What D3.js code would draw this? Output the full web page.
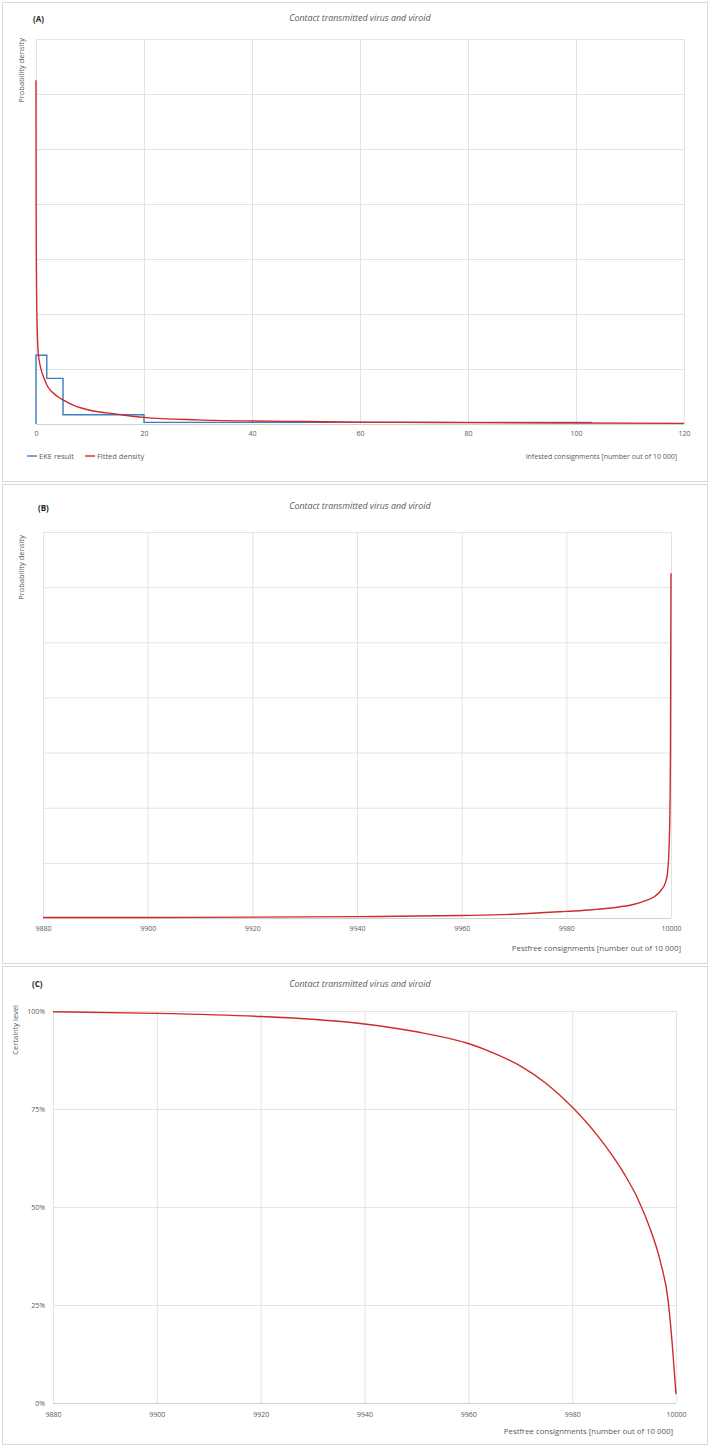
<!DOCTYPE html>
<html lang="en">
  <head>
    <meta charset="utf-8">
    <title>Contact transmitted virus and viroid</title>
    <script src="https://cdn.jsdelivr.net/npm/d3@7"></script>
    <style>
      body { margin: 0; background: #fff; }
      text { font-family: "Open Sans", sans-serif; fill: #595959; }
      .tick text { font-size: 7px; fill: #595959; }
      .grid line { stroke: #e3e3e3; stroke-width: 1; }
      .grid .domain { display: none; }
    </style>
  </head>
  <body>
    <script>

        var w = 709;
        var h = 1447;

        // EKE result (histogram from elicited quantiles), infested consignments
        var ekeEdges = [0, 2, 5, 20, 103];
        var ekeDensity = [0.125, 0.083, 0.0167, 0.003];

        // fitted density
        var fitInfested = [0, 0.01, 0.03, 0.06, 0.12, 0.24, 0.4, 0.6, 1, 1.5, 2, 3, 4, 5, 7, 10, 15, 20, 30, 40, 50, 60, 80, 100, 120];
        var fitDensity = [0.625, 0.5, 0.38, 0.3, 0.23, 0.17, 0.13, 0.115, 0.097, 0.083, 0.071, 0.058, 0.05, 0.044, 0.034, 0.025, 0.018, 0.012, 0.0075, 0.0055, 0.0045, 0.0035, 0.0025, 0.0018, 0.0012];

        // fitted density (pestfree scale)
        var fitPestfree = [9880, 9900, 9920, 9940, 9960, 9970, 9980, 9985, 9990, 9993, 9995, 9997, 9998, 9999, 9999.3, 9999.6, 9999.8, 9999.9, 10000];
        var fitDensityB = [0.0008, 0.001, 0.0015, 0.0025, 0.0045, 0.0068, 0.012, 0.015, 0.02, 0.025, 0.031, 0.04, 0.049, 0.066, 0.08, 0.12, 0.2, 0.3, 0.625];

        // certainty level (panel C)
        var certPestfree = [9880, 9900, 9920, 9930, 9940, 9950, 9960, 9965, 9970, 9975, 9980, 9985, 9990, 9992.5, 9995, 9997, 9998.5, 9999.3, 10000];
        var certLevel = [99.8, 99.4, 98.6, 97.9, 96.7, 94.7, 91.7, 89.2, 86, 81.5, 75.5, 68, 58.5, 52.5, 44.5, 36, 26, 14.6, 2.3];

        var infestedTicks = [0, 20, 40, 60, 80, 100, 120];
        var pestfreeTicks = [9880, 9900, 9920, 9940, 9960, 9980, 10000];
        var densityGrid = [0, 0.1, 0.2, 0.3, 0.4, 0.5, 0.6, 0.7];
        var certTicks = [0, 25, 50, 75, 100];

        var titleText = "Contact transmitted virus and viroid";
        var red = "#d02b2b";
        var blue = "#3d7ebd";

        var mySvg = d3.select("body")
                      .append("svg")
                      .attr("width", w)
                      .attr("height", h);

        // panel frames
        var frames = [[2, 2, 705, 479], [2, 484, 705, 479], [2, 966, 705, 478]];
        mySvg.selectAll("rect.frame")
             .data(frames)
             .enter()
             .append("rect")
             .attr("class", "frame")
             .attr("x", function(d) { return d[0] + 0.5; })
             .attr("y", function(d) { return d[1] + 0.5; })
             .attr("width", function(d) { return d[2]; })
             .attr("height", function(d) { return d[3]; })
             .attr("fill", "none")
             .attr("stroke", "#d9d9d9");

        function panelText(letter, lx, ly, titleY, ylab, ylx, yly) {
          mySvg.append("text")
               .attr("x", lx).attr("y", ly)
               .style("font-size", "8px").style("font-weight", "bold").style("fill", "#222")
               .text(letter);
          mySvg.append("text")
               .attr("x", 360).attr("y", titleY)
               .attr("text-anchor", "middle")
               .style("font-size", "8.9px").style("font-style", "italic")
               .text(titleText);
          mySvg.append("text")
               .attr("transform", "translate(" + ylx + "," + yly + ") rotate(-90)")
               .attr("text-anchor", "end")
               .style("font-size", "7.5px")
               .text(ylab);
        }

        function grid(g, x, y, xt, yt) {
          var x0 = x.range()[0], x1 = x.range()[1];
          var y0 = y.range()[0], y1 = y.range()[1];
          g.append("g").attr("class", "grid")
           .attr("transform", "translate(0," + y0 + ")")
           .call(d3.axisBottom(x).tickValues(xt).tickSize(-(y0 - y1)).tickFormat(""));
          g.append("g").attr("class", "grid")
           .attr("transform", "translate(" + x0 + ",0)")
           .call(d3.axisLeft(y).tickValues(yt).tickSize(-(x1 - x0)).tickFormat(""));
          g.append("line")
           .attr("x1", x0).attr("x2", x1).attr("y1", y0 + 0.5).attr("y2", y0 + 0.5)
           .attr("stroke", "#d0d0d0");
        }

        function xLabels(g, x, y, ticks, dy) {
          g.append("g")
           .attr("transform", "translate(0," + y.range()[0] + ")")
           .call(d3.axisBottom(x).tickValues(ticks).tickSize(0).tickPadding(dy).tickFormat(d3.format("d")))
           .call(function(a) { a.select(".domain").remove(); });
        }

        function redLine(g, x, y, pts) {
          g.append("path")
           .datum(pts)
           .attr("fill", "none")
           .attr("stroke", red)
           .attr("stroke-width", 1.4)
           .attr("d", d3.line()
                        .x(function(d) { return x(d[0]); })
                        .y(function(d) { return y(d[1]); })
                        .curve(d3.curveMonotoneX));
        }

        // ---------- panel A ----------
        var xA = d3.scaleLinear().domain([0, 120]).range([36, 684]);
        var yA = d3.scaleLinear().domain([0, 0.7]).range([424, 39]);
        var gA = mySvg.append("g");
        panelText("(A)", 33, 22, 21, "Probability density", 24, 38);
        grid(gA, xA, yA, infestedTicks, densityGrid);
        xLabels(gA, xA, yA, infestedTicks, 7);

        var ekePts = [[0, 0]];
        ekeDensity.forEach(function(d, i) { ekePts.push([ekeEdges[i], d]); });
        ekePts.push([ekeEdges[ekeEdges.length - 1], ekeDensity[ekeDensity.length - 1]]);

        gA.append("path")
          .datum(ekePts)
          .attr("fill", "none")
          .attr("stroke", blue)
          .attr("stroke-width", 1.4)
          .attr("d", d3.line()
                       .x(function(d) { return xA(d[0]); })
                       .y(function(d) { return yA(d[1]); })
                       .curve(d3.curveStepAfter));

        redLine(gA, xA, yA, fitInfested.map(function(v, i) { return [v, fitDensity[i]]; }));

        // legend
        var legend = [["EKE result", blue, 27], ["Fitted density", red, 85]];
        var lg = gA.selectAll("g.legend")
                   .data(legend)
                   .enter()
                   .append("g")
                   .attr("class", "legend")
                   .attr("transform", function(d) { return "translate(" + d[2] + ",456)"; });
        lg.append("line")
          .attr("x1", 0).attr("x2", 10).attr("y1", 0).attr("y2", 0)
          .attr("stroke", function(d) { return d[1]; })
          .attr("stroke-width", 1.4);
        lg.append("text")
          .attr("x", 12).attr("y", 2.7)
          .style("font-size", "7.5px")
          .text(function(d) { return d[0]; });

        gA.append("text")
          .attr("x", 677).attr("y", 459)
          .attr("text-anchor", "end")
          .style("font-size", "7px")
          .text("Infested consignments [number out of 10 000]");

        // ---------- panel B ----------
        var xB = d3.scaleLinear().domain([9880, 10000]).range([43, 671]);
        var yB = d3.scaleLinear().domain([0, 0.7]).range([918, 532]);
        var gB = mySvg.append("g");
        panelText("(B)", 38, 511, 509, "Probability density", 24, 535);
        grid(gB, xB, yB, pestfreeTicks, densityGrid);
        xLabels(gB, xB, yB, pestfreeTicks, 8);

        redLine(gB, xB, yB, fitPestfree.map(function(v, i) { return [v, fitDensityB[i]]; }));

        gB.append("text")
          .attr("x", 681).attr("y", 951)
          .attr("text-anchor", "end")
          .style("font-size", "7.8px")
          .text("Pestfree consignments [number out of 10 000]");

        // ---------- panel C ----------
        var xC = d3.scaleLinear().domain([9880, 10000]).range([53, 676]);
        var yC = d3.scaleLinear().domain([0, 100]).range([1403, 1011]);
        var gC = mySvg.append("g");
        panelText("(C)", 32, 987, 987, "Certainty level", 18, 1005);
        grid(gC, xC, yC, pestfreeTicks, certTicks);
        xLabels(gC, xC, yC, pestfreeTicks, 9);

        gC.append("g")
          .attr("transform", "translate(" + xC.range()[0] + ",0)")
          .call(d3.axisLeft(yC).tickValues(certTicks).tickSize(0).tickPadding(8)
                  .tickFormat(function(d) { return d + "%"; }))
          .call(function(a) { a.select(".domain").remove(); });

        redLine(gC, xC, yC, certPestfree.map(function(v, i) { return [v, certLevel[i]]; }));

        gC.append("text")
          .attr("x", 673).attr("y", 1434)
          .attr("text-anchor", "end")
          .style("font-size", "7.8px")
          .text("Pestfree consignments [number out of 10 000]");

    </script>
  </body>
</html>
